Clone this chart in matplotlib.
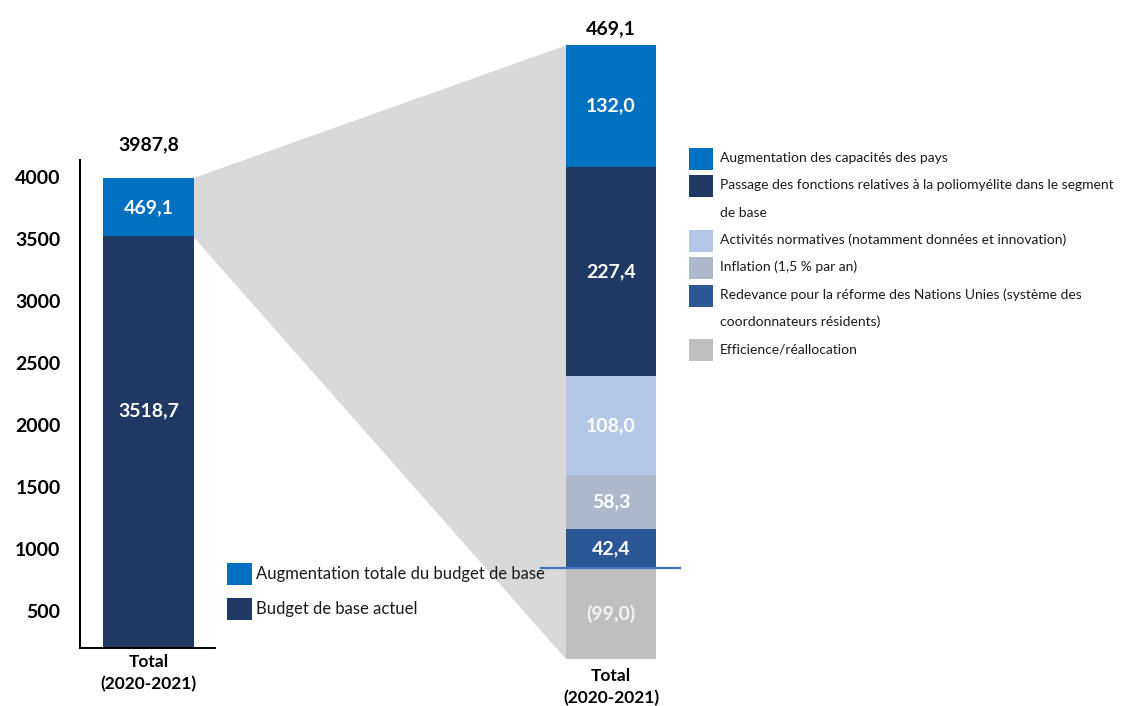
import matplotlib
matplotlib.use("Agg")
import matplotlib.pyplot as plt
from matplotlib.patches import Polygon, Rectangle

plt.rcParams['font.family'] = ['Lato', 'DejaVu Sans']

W, H = 1139, 706

# Left bar: current base budget and its total increase
left_category = "Total\n(2020-2021)"
left_labels = ["Budget de base actuel", "Augmentation totale du budget de base"]
left_values = [3518.7, 469.1]
left_colors = ["#203864", "#0070C0"]
left_ticks = [500, 1000, 1500, 2000, 2500, 3000, 3500, 4000]

# Right bar: breakdown of the increase (legend order, top to bottom)
right_category = "Total\n(2020-2021)"
right_labels = [
    "Augmentation des capacités des pays",
    "Passage des fonctions relatives à la poliomyélite dans le segment\nde base",
    "Activités normatives (notamment données et innovation)",
    "Inflation (1,5 % par an)",
    "Redevance pour la réforme des Nations Unies (système des\ncoordonnateurs résidents)",
    "Efficience/réallocation",
]
right_values = [132.0, 227.4, 108.0, 58.3, 42.4, -99.0]
right_colors = ["#0070C0", "#203864", "#B4C7E7", "#ADB9CA", "#2B5797", "#BFBFBF"]


def fmt(v):
    s = f"{abs(v):.1f}".replace(".", ",")
    return f"({s})" if v < 0 else s


def fig_box(x0, y0, x1, y1):
    return [x0 / W, 1 - y1 / H, (x1 - x0) / W, (y1 - y0) / H]


fig = plt.figure(figsize=(W / 100, H / 100), dpi=100)

# ---- left stacked bar ----
ax1 = fig.add_axes(fig_box(80, 160, 215, 648))
ax1.set_facecolor("none")
ax1.set_xlim(-0.51, 0.49)
ax1.set_ylim(200, 4135)
lw = 0.674
label_pos = [0.6, 0.5]   # where each value label sits within its segment
bottom = 0.0
for val, col, frac in zip(left_values, left_colors, label_pos):
    ax1.bar(0, val, bottom=bottom, width=lw, color=col, zorder=2)
    ax1.text(0, bottom + val * frac, fmt(val), ha="center", va="center",
             color="white", fontsize=14, fontweight="bold", zorder=3)
    bottom += val
left_total = bottom

ax1.annotate(fmt(left_total), (0, left_total), xytext=(0, 18),
             textcoords="offset points", ha="center", va="bottom",
             fontsize=14, fontweight="bold", color="black")

ax1.set_yticks(left_ticks)
ax1.set_yticklabels([str(t) for t in left_ticks], fontsize=14, fontweight="bold")
ax1.set_xticks([0])
ax1.set_xticklabels([left_category], fontsize=12.5, fontweight="bold",
                    linespacing=1.45)
ax1.tick_params(axis="y", length=0, pad=14)
ax1.tick_params(axis="x", length=0, pad=4)
for side in ("top", "right"):
    ax1.spines[side].set_visible(False)
for side in ("left", "bottom"):
    ax1.spines[side].set_linewidth(1.4)
    ax1.spines[side].set_color("black")

# ---- right waterfall-style stacked bar ----
ax2 = fig.add_axes(fig_box(520, 30, 700, 660))
ax2.set_facecolor("none")
ax2.set_xlim(-1.011, 0.989)
ax2.set_ylim(-100, 584.8)
rw = 1.0
pos_base, neg_base = 0.0, 0.0
for val, col in reversed(list(zip(right_values, right_colors))):
    if val >= 0:
        b = pos_base
        pos_base += val
    else:
        b = neg_base + val
        neg_base += val
    ax2.bar(0, abs(val), bottom=b, width=rw, color=col, zorder=2)
    txt_col = "white" if val >= 0 else "#F2F2F2"
    ax2.text(0, b + abs(val) / 2, fmt(val), ha="center", va="center",
             color=txt_col, fontsize=14, fontweight="bold", zorder=3)
right_total = sum(right_values)
ax2.annotate(fmt(right_total), (0, pos_base), xytext=(0, 6),
             textcoords="offset points", ha="center", va="bottom",
             fontsize=14, fontweight="bold", color="black")
ax2.plot([-0.78, 0.77], [0, 0], color="#4472C4", lw=1.6, zorder=4)
ax2.set_xticks([0])
ax2.set_xticklabels([right_category], fontsize=12.5, fontweight="bold",
                    linespacing=1.45)
ax2.set_yticks([])
ax2.tick_params(axis="x", length=0, pad=6)
for s in ax2.spines.values():
    s.set_visible(False)

# ---- grey connector between the two bars ----
to_fig = fig.transFigure.inverted()
corners = [
    ax1.transData.transform((lw / 2 - 0.01, left_total)),
    ax2.transData.transform((-rw / 2, pos_base)),
    ax2.transData.transform((-rw / 2, neg_base)),
    ax1.transData.transform((lw / 2 - 0.01, left_values[0])),
]
fig.patches.append(Polygon(to_fig.transform(corners), closed=True,
                           facecolor="#D9D9D9", edgecolor="none",
                           transform=fig.transFigure, zorder=-1))


# ---- legends ----
def legend_square(x0, y0, x1, y1, color):
    fig.patches.append(Rectangle((x0 / W, 1 - y1 / H), (x1 - x0) / W,
                                 (y1 - y0) / H, transform=fig.transFigure,
                                 facecolor=color, edgecolor="none", zorder=5))


left_rows = [(574, 1), (609, 0)]
for yc, idx in left_rows:
    legend_square(227, yc - 11, 252, yc + 11, left_colors[idx])
    fig.text(256 / W, 1 - yc / H, left_labels[idx], ha="left", va="center",
             fontsize=12, color="#1a1a1a")

line_step = 27.3
line_y = 158.0
for lab, col in zip(right_labels, right_colors):
    legend_square(689, line_y - 10, 713, line_y + 12, col)
    for line in lab.split("\n"):
        fig.text(720 / W, 1 - line_y / H, line, ha="left", va="center",
                 fontsize=10, color="#1a1a1a")
        line_y += line_step

fig.savefig("out.png", dpi=100)
